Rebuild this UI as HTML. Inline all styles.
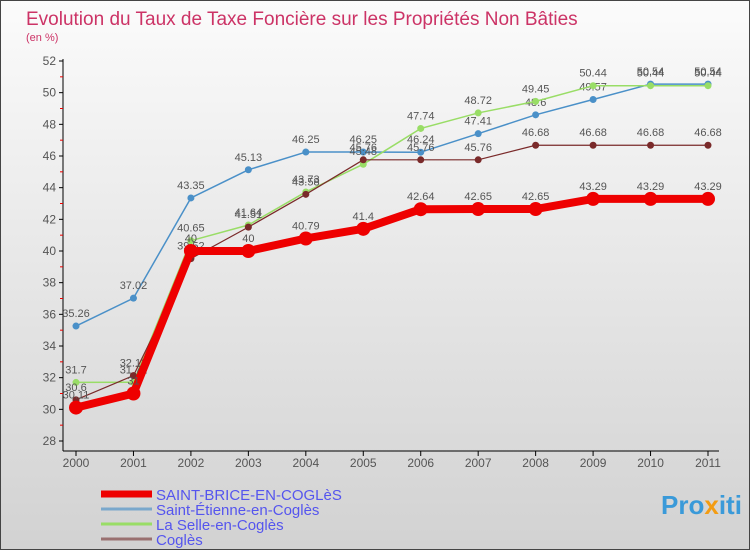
<!DOCTYPE html>
<html><head><meta charset="utf-8"><style>
body{margin:0}
#c{width:750px;height:550px;position:relative;background:linear-gradient(#fbfbfb,#d2d2d2);font-family:"Liberation Sans",sans-serif;overflow:hidden;box-sizing:border-box;border:1px solid #444}
text{font-family:"Liberation Sans",sans-serif}
</style></head><body>
<div id="c">
<svg id="s" width="750" height="550">
<text x="25" y="24" font-size="19" fill="#cc3366">Evolution du Taux de Taxe Foncière sur les Propriétés Non Bâties</text>
<text x="25" y="40" font-size="11" fill="#cc3366">(en %)</text>
<line x1="62" y1="58" x2="62" y2="450" stroke="#000"/>
<line x1="62" y1="450" x2="718" y2="450" stroke="#000"/>
<g id="g"></g>
<text x="660" y="513" font-size="26" font-weight="bold" fill="#3a9ad9">Pro<tspan fill="#f39c12">x</tspan>iti</text>
</svg>
</div>
<script>
const years=[2000,2001,2002,2003,2004,2005,2006,2007,2008,2009,2010,2011];
const yTicks=[28,30,32,34,36,38,40,42,44,46,48,50,52];
const brice=[30.11,31,40,40,40.79,41.4,42.64,42.65,42.65,43.29,43.29,43.29];
const etienne=[35.26,37.02,43.35,45.13,46.25,46.25,46.24,47.41,48.6,49.57,50.54,50.54];
const selle=[31.7,31.71,40.65,41.64,43.73,45.48,47.74,48.72,49.45,50.44,50.44,50.44];
const cogles=[30.6,32.13,39.52,41.51,43.58,45.76,45.76,45.76,46.68,46.68,46.68,46.68];
const names=["SAINT-BRICE-EN-COGLèS","Saint-Étienne-en-Coglès","La Selle-en-Coglès","Coglès"];
const NS="http://www.w3.org/2000/svg";
const g=document.getElementById('g');
const X=i=>75+i*(707-75)/11;
const Y=v=>440-(v-28)*(380/24);
function mk(t,a,p){const e=document.createElementNS(NS,t);for(const k in a)e.setAttribute(k,a[k]);(p||g).appendChild(e);return e;}
yTicks.forEach(v=>{
 const t=mk('line',{x1:58,x2:62,y1:Y(v),y2:Y(v),stroke:'#000'});
 
 
 const l=mk('text',{x:55,y:Y(v)+4,'font-size':12,fill:'#555','text-anchor':'end'});l.textContent=v;
 
 
 if(v<52){const m=mk('line',{x1:59,x2:62,y1:Y(v+1),y2:Y(v+1),stroke:'#e00'});
 
 }
});
years.forEach((yr,i)=>{
 const t=mk('line',{x1:X(i),x2:X(i),y1:450,y2:455,stroke:'#000'});
 
 
 const l=mk('text',{x:X(i),y:466,'font-size':12,fill:'#555','text-anchor':'middle'});l.textContent=yr;
 
 
});
const series=[
 {d:etienne,c:'#4a90c8',w:1.5,r:3.5,n:'saint-etienne'},
 {d:selle,c:'#99dd66',w:1.5,r:3.5,n:'la-selle'},
 {d:cogles,c:'#7a2a2a',w:1.2,r:3.5,n:'cogles'},
 {d:brice,c:'#ee0000',w:8,r:7,n:'saint-brice'}];
series.forEach(s=>{
 const p=mk('polyline',{points:s.d.map((v,i)=>X(i)+','+Y(v)).join(' '),fill:'none',stroke:s.c,'stroke-width':s.w,'stroke-linejoin':'round'});
 
 
 s.d.forEach((v,i)=>{
  const c=mk('circle',{cx:X(i),cy:Y(v),r:s.r,fill:s.c});
  
  
  const l=mk('text',{x:X(i),y:Y(v)-9,'font-size':11,fill:'#555','text-anchor':'middle'});l.textContent=v;
  
  
 });
});
const lc=['#ee0000','#7aa8cc','#99dd66','#997070'],lw=[7,3,3,3];
names.forEach((n,i)=>{
 const y=493+i*15;
 const l=mk('line',{x1:100,x2:151,y1:y,y2:y,stroke:lc[i],'stroke-width':lw[i]});
 
 
 const t=mk('text',{x:155,y:y+6,'font-size':15,fill:'#5555ee'});t.textContent=n;
 
 
});
</script>
</body></html>
